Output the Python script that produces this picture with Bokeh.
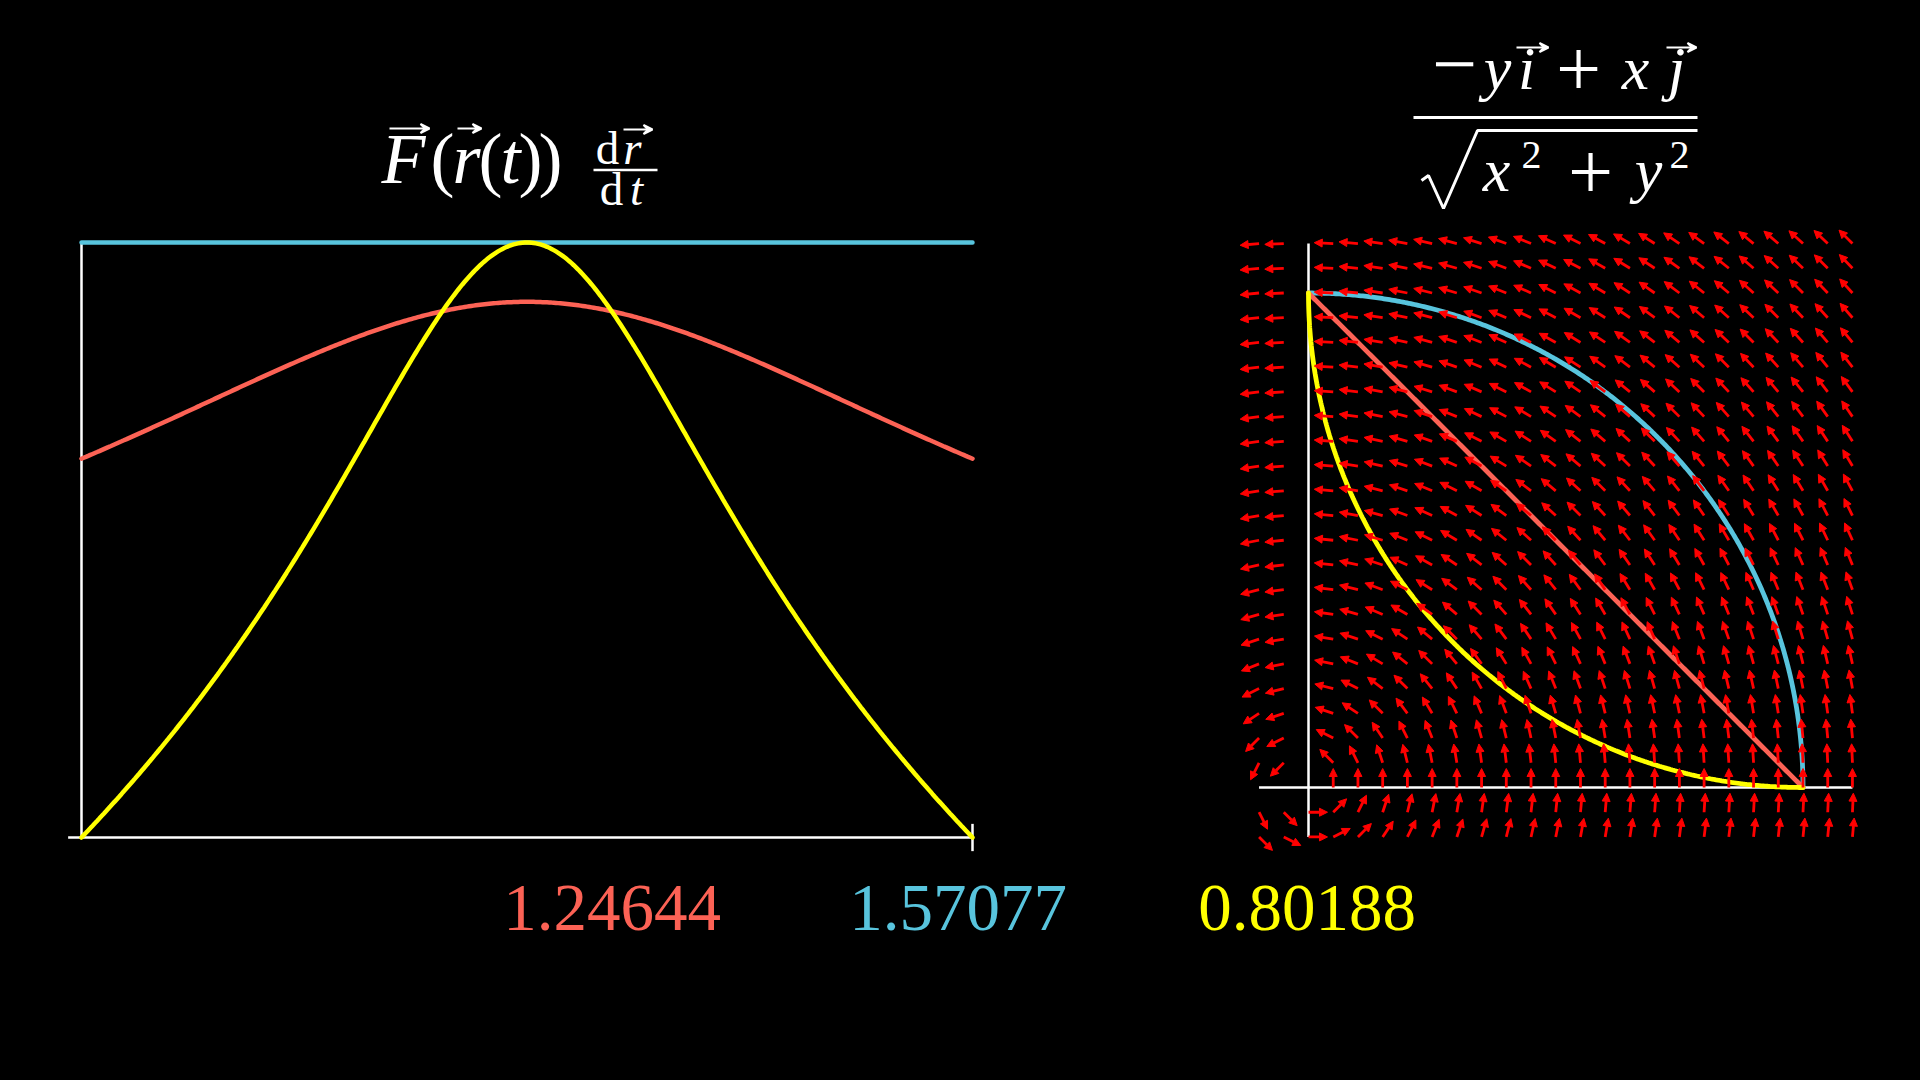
import numpy as np
from bokeh.plotting import figure
from bokeh.models import Range1d, Label, Arrow, NormalHead, VeeHead, ColumnDataSource
from bokeh.embed import file_html
from bokeh.resources import INLINE

# ---------------- data ----------------
curve_names = ["line", "circle", "arc"]
curve_colors = ["#FC6255", "#58C4DD", "#FFFF00"]
integral_values = [1.24644, 1.57077, 0.80188]
field_step = 0.05
field_lo, field_hi = -0.1, 1.1
arrow_len = 0.0384

T = np.linspace(0.0, 1.0, 401)
paths = {
    "line": (1.0 - T, T),
    "circle": (np.cos(T * np.pi / 2), np.sin(T * np.pi / 2)),
    "arc": (1.0 - np.sin(T * np.pi / 2), 1.0 - np.cos(T * np.pi / 2)),
}


def field(x, y):
    r = np.sqrt(x * x + y * y)
    return -y / r, x / r


def integrand(px, py):
    dx = np.gradient(px, T, edge_order=2)
    dy = np.gradient(py, T, edge_order=2)
    fx, fy = field(px, py)
    return fx * dx + fy * dy


# ---------------- canvas ----------------
W, H = 1920, 1080
OX, OY = 0, 0


def lin_x(va, Xa, vb, Xb):
    s = (Xb - Xa) / (vb - va)
    return Range1d(va + (OX - Xa) / s, va + (OX + W - Xa) / s)


def lin_y(va, Ya, vb, Yb):
    s = (Ya - Yb) / (vb - va)
    return Range1d(va - (OY + H - Ya) / s, va + (Ya - OY) / s)


p = figure(width=W, height=H, x_range=Range1d(OX, OX + W), y_range=Range1d(OY + H, OY),
           output_backend="svg", toolbar_location=None, x_axis_location=None,
           y_axis_location=None, min_border=0, title=None,
           background_fill_color="black", border_fill_color="black",
           outline_line_color=None)
p.grid.visible = False
p.extra_x_ranges = {"lt": lin_x(0, 81, 1, 972), "rx": lin_x(0, 1308, 1, 1802.5)}
p.extra_y_ranges = {"lv": lin_y(0, 837, np.pi / 2, 242), "ry": lin_y(0, 787, 1, 292.5)}

# ---------------- left: integrand plot ----------------
L = dict(x_range_name="lt", y_range_name="lv")
p.line([-0.015, 1.0], [0, 0], line_color="white", line_width=2.5, **L)
p.line([0, 0], [0, np.pi / 2], line_color="white", line_width=2.5, **L)
p.line([1.0, 1.0], [-0.036, 0.036], line_color="white", line_width=2.5, **L)
for name in ["circle", "line", "arc"]:
    col = curve_colors[curve_names.index(name)]
    px, py = paths[name]
    p.line(T, integrand(px, py), line_color=col, line_width=4.5, line_cap="round", **L)

# ---------------- right: vector field ----------------
R = dict(x_range_name="rx", y_range_name="ry")
grid = np.round(np.arange(int(round((field_hi - field_lo) / field_step)) + 1) * field_step + field_lo, 2)
xs, ys, xe, ye = [], [], [], []
for gx in grid:
    for gy in grid:
        if (gx == 0 and gy >= 0) or (gy == 0 and gx < 0):
            continue
        fx, fy = field(gx, gy)
        xs.append(gx); ys.append(gy)
        xe.append(gx + arrow_len * fx); ye.append(gy + arrow_len * fy)
src = ColumnDataSource(dict(xs=xs, ys=ys, xe=xe, ye=ye))
p.add_layout(Arrow(x_start="xs", y_start="ys", x_end="xe", y_end="ye", source=src,
                   line_color="#FF0000", line_width=2.8,
                   end=NormalHead(size=8, fill_color="#FF0000", line_color="#FF0000", line_width=1),
                   **R))
p.line([field_lo, field_hi], [0, 0], line_color="white", line_width=2.5, **R)
p.line([0, 0], [field_lo, field_hi], line_color="white", line_width=2.5, **R)
for name in ["circle", "line", "arc"]:
    col = curve_colors[curve_names.index(name)]
    px, py = paths[name]
    p.line(px, py, line_color=col, line_width=4.8, line_cap="round", **R)

# ---------------- texts ----------------
SERIF = "Liberation Serif"
BASE_K = 0.33   # baseline correction for the svg text placement


def lab(text, x, y, size, color="white", style="normal", align="center"):
    p.add_layout(Label(x=x, y=y - BASE_K * size, text=text, text_font=SERIF,
                       text_font_size=f"{size}px", text_font_style=style, text_color=color,
                       text_align=align, text_baseline="alphabetic"))


def vec(x0, x1, y):
    p.add_layout(Arrow(x_start=x0, y_start=y, x_end=x1, y_end=y, line_color="white", line_width=2.2,
                       end=VeeHead(size=9, fill_color="white", line_color="white", line_width=2)))


# left title: F(r(t)) dr/dt
lab("F", 403, 182, 72, style="italic")
lab("(", 442, 182, 72)
lab("r", 466, 182, 72, style="italic")
lab("(", 490, 182, 72)
lab("t", 510, 182, 72, style="italic")
lab(")", 530, 182, 72)
lab(")", 550, 182, 72)
vec(389, 429, 128)
vec(457, 481, 128)
lab("d", 607, 163, 47)
lab("r", 632, 163, 47, style="italic")
vec(623, 652, 129)
p.line([593, 657], [169.5, 169.5], line_color="white", line_width=2.5)
lab("d", 611, 204, 47)
lab("t", 636, 204, 47, style="italic")

# right title: (-y i + x j) / sqrt(x^2 + y^2)
lab("\u2212", 1454, 90, 80)
lab("y", 1497, 88, 62, style="italic")
lab("i", 1526, 88, 62, style="italic")
vec(1516, 1548, 47)
lab("+", 1578, 95, 80)
lab("x", 1635, 88, 62, style="italic")
lab("j", 1676, 88, 62, style="italic")
vec(1666, 1696, 47)
p.line([1413, 1697], [117, 117], line_color="white", line_width=3)
p.line([1421, 1428, 1443, 1477, 1697], [180, 175, 208, 130, 130], line_color="white", line_width=3)
lab("x", 1496, 190, 62, style="italic")
lab("2", 1531, 168, 40)
lab("+", 1590, 198, 80)
lab("y", 1648, 190, 62, style="italic")
lab("2", 1679, 168, 40)

# integral values
for v, col, cx in zip(integral_values, curve_colors, [611.5, 957.5, 1306.5]):
    lab(f"{v:.5f}", cx, 930, 67, color=col)

html = file_html(p, INLINE)
html = html.replace("<head>", "<head><style>html,body{background:#000;overflow:hidden;}</style>", 1)
open("out.html", "w").write(html)
